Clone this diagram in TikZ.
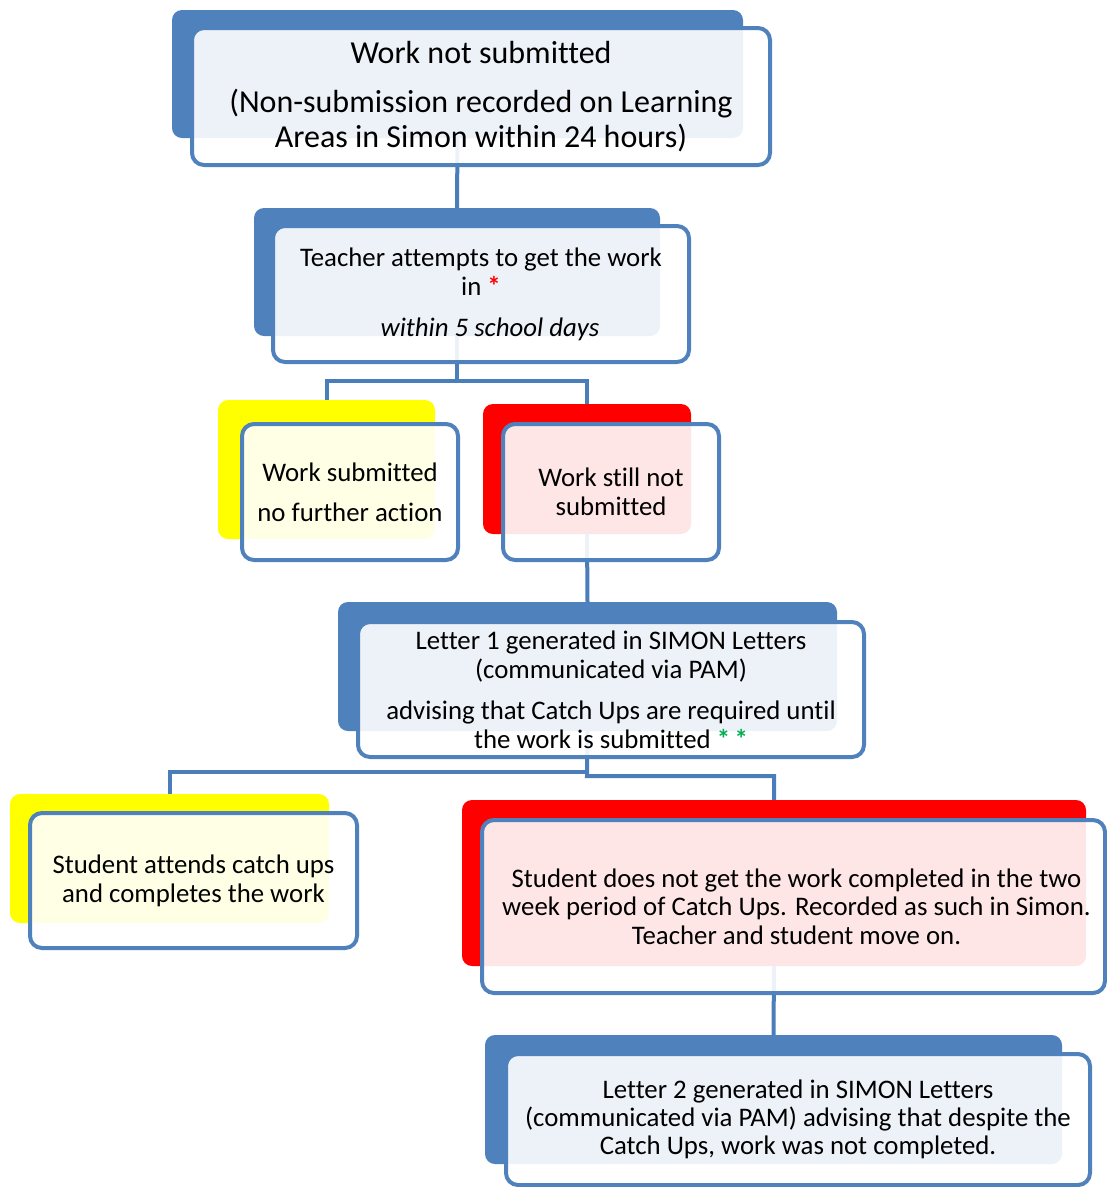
\documentclass[tikz,border=0pt]{standalone}
\usepackage{fontspec}
\setmainfont{Carlito}[Ligatures=NoCommon]
\usepackage{xcolor}
\usepackage{tikz}
\usetikzlibrary{shapes}
\definecolor{boxblue}{HTML}{4F81BD}
\definecolor{lineblue}{HTML}{4A7EBB}
\definecolor{boxyellow}{HTML}{FFFF00}
\definecolor{boxred}{HTML}{FF0000}
\definecolor{stargreen}{HTML}{00B050}
\tikzstyle{bk} = [rectangle, rounded corners=10pt, inner sep=0pt, draw=none]
\tikzstyle{fr} = [rectangle, rounded corners=12pt, draw=boxblue, line width=4pt, fill=white, fill opacity=0.9, text opacity=1, align=center, inner sep=0pt]
\tikzstyle{link} = [draw=lineblue, line width=4pt]

\begin{document}
\begin{tikzpicture}
		[x=1pt, y=-1pt,
		font=\fontsize{26.8}{29}\selectfont
		]
		\useasboundingbox (0,0) rectangle (1107,1187);
		% coloured backs
		\draw (457.5,74) node[bk, fill=boxblue, minimum width=571pt, minimum height=128pt] (b1){};
		\draw (457,272) node[bk, fill=boxblue, minimum width=406pt, minimum height=128pt] (b2){};
		\draw (326.5,469.5) node[bk, fill=boxyellow, minimum width=217pt, minimum height=139pt] (b3){};
		\draw (587,469) node[bk, fill=boxred, minimum width=208pt, minimum height=130pt] (b4){};
		\draw (587.5,666.5) node[bk, fill=boxblue, minimum width=499pt, minimum height=129pt] (b5){};
		\draw (169.5,858.5) node[bk, fill=boxyellow, minimum width=319pt, minimum height=129pt] (b6){};
		\draw (774,883) node[bk, fill=boxred, minimum width=624pt, minimum height=166pt] (b7){};
		\draw (773.5,1099.5) node[bk, fill=boxblue, minimum width=577pt, minimum height=129pt] (b8){};
		% connectors
		\coordinate (j2) at (457,381);
		\coordinate (j5a) at (587,772);
		\coordinate (j5b) at (587,776);
		\foreach \from/\to in {b1/b2,b4/b5,b7/b8}
		\draw[link] (\from.south) -- (\to.north);
		\draw[link] (b2.south) -- (j2) -| (b3.north);
		\draw[link] (j2) -| (b4.north);
		\draw[link] (b5.south) -- (j5b) -| (b7.north);
		\draw[link] (j5a) -| (b6.north);
		% front boxes
		\draw (481,96.5) node[fr, minimum width=578pt, minimum height=137pt, font=\fontsize{32}{35}\selectfont] (f1){Work not submitted\\[14pt](Non-submission recorded on Learning\\Areas in Simon within 24 hours)};
		\draw (481,294) node[fr, minimum width=416pt, minimum height=136pt] (f2){Teacher attempts to get the work\\in {\color{boxred}\bfseries *}\\[12pt]\hspace*{18pt}\textit{within 5 school days}};
		\draw (350,492) node[fr, minimum width=216pt, minimum height=136pt] (f3){Work submitted\\[11pt]no further action};
		\draw (611,492) node[fr, minimum width=216pt, minimum height=136pt] (f4){Work still not\\submitted};
		\draw (611,689.5) node[fr, minimum width=506pt, minimum height=135pt] (f5){Letter 1 generated in SIMON Letters\\(communicated via PAM)\\[12pt]advising that Catch Ups are required until\\the work is submitted {\color{stargreen}\bfseries *\,*}};
		\draw (193.5,880.5) node[fr, minimum width=327pt, minimum height=135pt] (f6){Student attends catch ups\\and completes the work};
		\draw (793.5,906.5) node[fr, minimum width=623pt, minimum height=173pt, font=\fontsize{26.8}{28.5}\selectfont] (f7){\hspace*{6pt}Student does not get the work completed in the two\\\hspace*{6pt}week period of Catch Ups. Recorded as such in Simon.\\\hspace*{6pt}Teacher and student move on.};
		\draw (798,1119.5) node[fr, minimum width=584pt, minimum height=131pt, font=\fontsize{26.8}{28}\selectfont] (f8){Letter 2 generated in SIMON Letters\\(communicated via PAM) advising that despite the\\Catch Ups, work was not completed.};
\end{tikzpicture}
\end{document}
